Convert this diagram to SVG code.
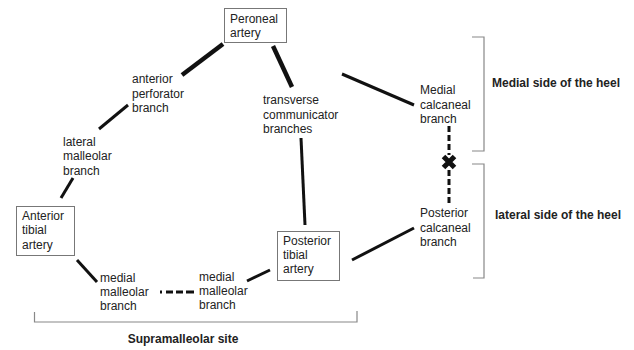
<svg xmlns="http://www.w3.org/2000/svg" width="634" height="350" viewBox="0 0 634 350">
<style>
.t{font-family:"Liberation Sans",Arial,sans-serif;font-size:12px;fill:#222}
.b{font-family:"Liberation Sans",Arial,sans-serif;font-size:12px;font-weight:bold;fill:#222}
.box{fill:#fff;stroke:#777;stroke-width:1}
.c{stroke:#111;fill:none}
.br{stroke:#888;stroke-width:1.2;fill:none}
</style>
<rect width="634" height="350" fill="#fff"/>
<g id="connectors">
<line class="c" x1="223" y1="44" x2="182" y2="75" stroke-width="4.5"/>
<line class="c" x1="273" y1="46" x2="292" y2="87" stroke-width="4.5"/>
<line class="c" x1="128" y1="105" x2="99" y2="129" stroke-width="3"/>
<line class="c" x1="73" y1="178" x2="61" y2="198" stroke-width="3"/>
<line class="c" x1="301" y1="138" x2="305" y2="225" stroke-width="3"/>
<line class="c" x1="342" y1="74" x2="414" y2="105" stroke-width="3"/>
<line class="c" x1="77" y1="260" x2="97" y2="282" stroke-width="3"/>
<line class="c" x1="247" y1="281" x2="270" y2="270" stroke-width="3"/>
<line class="c" x1="352" y1="260" x2="414" y2="228" stroke-width="3"/>
<line class="c" x1="160" y1="292" x2="194" y2="292" stroke-width="3" stroke-dasharray="2,4,7,3,7,3,8"/>
<line class="c" x1="449" y1="126" x2="449" y2="155" stroke-width="3" stroke-dasharray="6,3"/>
<line class="c" x1="449" y1="170" x2="449" y2="203" stroke-width="3" stroke-dasharray="6,3"/>
<path d="M443.5 156.5 L454.5 167.5 M454.5 156.5 L443.5 167.5" stroke="#111" stroke-width="5" fill="none"/>
</g>
<g id="peroneal">
<rect class="box" x="224.5" y="8.5" width="62" height="34"/>
<text class="t" x="230" y="23">Peroneal</text>
<text class="t" x="230" y="37">artery</text>
</g>
<g id="anterior-perforator">
<text class="t" x="132" y="83">anterior</text>
<text class="t" x="132" y="98">perforator</text>
<text class="t" x="132" y="112">branch</text>
</g>
<g id="lateral-malleolar">
<text class="t" x="63" y="146">lateral</text>
<text class="t" x="63" y="160">malleolar</text>
<text class="t" x="63" y="175">branch</text>
</g>
<g id="transverse">
<text class="t" x="263" y="104">transverse</text>
<text class="t" x="263" y="119">communicator</text>
<text class="t" x="263" y="133">branches</text>
</g>
<g id="medial-calcaneal">
<text class="t" x="420" y="94">Medial</text>
<text class="t" x="420" y="109">calcaneal</text>
<text class="t" x="420" y="123">branch</text>
</g>
<g id="posterior-calcaneal">
<text class="t" x="420" y="217">Posterior</text>
<text class="t" x="420" y="232">calcaneal</text>
<text class="t" x="420" y="246">branch</text>
</g>
<g id="anterior-tibial">
<rect class="box" x="16.5" y="206.5" width="58" height="49"/>
<text class="t" x="22" y="220">Anterior</text>
<text class="t" x="22" y="234">tibial</text>
<text class="t" x="22" y="249">artery</text>
</g>
<g id="posterior-tibial">
<rect class="box" x="277.5" y="231.5" width="62" height="49"/>
<text class="t" x="283" y="245">Posterior</text>
<text class="t" x="283" y="259">tibial</text>
<text class="t" x="283" y="273">artery</text>
</g>
<g id="medial-malleolar-left">
<text class="t" x="100" y="282">medial</text>
<text class="t" x="100" y="296">malleolar</text>
<text class="t" x="100" y="310">branch</text>
</g>
<g id="medial-malleolar-right">
<text class="t" x="199" y="281">medial</text>
<text class="t" x="199" y="295">malleolar</text>
<text class="t" x="199" y="309">branch</text>
</g>
<g id="brackets">
<path class="br" d="M472 37 H484 V151 H472"/>
<path class="br" d="M472 164 H484 V278 H473"/>
<path class="br" d="M34.5 312 V322 H357 V311"/>
<text class="b" x="492" y="87">Medial side of the heel</text>
<text class="b" x="495" y="219">lateral side of the heel</text>
<text class="b" x="183" y="343" text-anchor="middle">Supramalleolar site</text>
</g>
</svg>
